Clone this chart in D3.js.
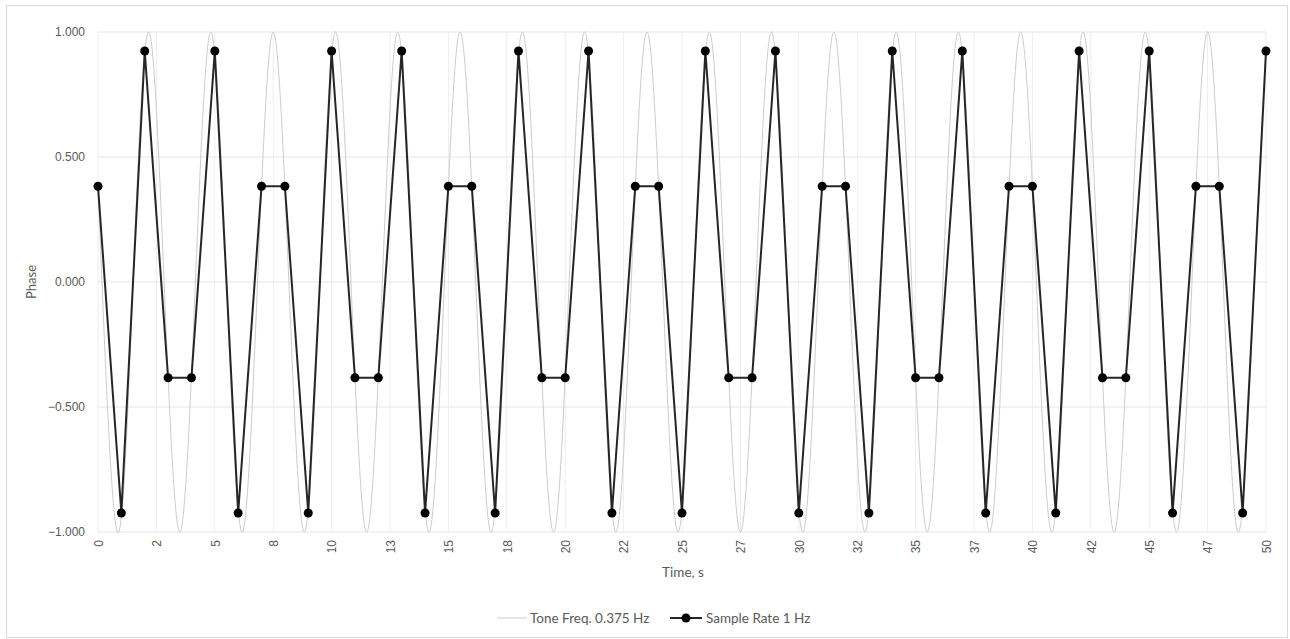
<!DOCTYPE html>
<html>
<head>
<meta charset="utf-8">
<script src="https://cdn.jsdelivr.net/npm/d3@7"></script>
<style>
  body { margin: 0; background: #fff; }
  svg { font-family: Lato, "Liberation Sans", sans-serif; }
  .tick text { fill: #595959; font-size: 12px; }
  .grid line { stroke: #e6e6e6; stroke-width: 1; }
</style>
</head>
<body>
<svg width="1290" height="639"></svg>
<script>
// sampled phase at 1 Hz, t = 0..50 s
var sampleValues = [
  0.383, -0.924, 0.924, -0.383, -0.383, 0.924, -0.924, 0.383,
  0.383, -0.924, 0.924, -0.383, -0.383, 0.924, -0.924, 0.383,
  0.383, -0.924, 0.924, -0.383, -0.383, 0.924, -0.924, 0.383,
  0.383, -0.924, 0.924, -0.383, -0.383, 0.924, -0.924, 0.383,
  0.383, -0.924, 0.924, -0.383, -0.383, 0.924, -0.924, 0.383,
  0.383, -0.924, 0.924, -0.383, -0.383, 0.924, -0.924, 0.383,
  0.383, -0.924, 0.924
];

// tone: start, zero crossings / peaks / troughs, end
var toneTime = [0, 0.17, 0.83, 1.5, 2.17, 2.83, 3.5, 4.17, 4.83, 5.5, 6.17, 6.83, 7.5,
  8.17, 8.83, 9.5, 10.17, 10.83, 11.5, 12.17, 12.83, 13.5, 14.17, 14.83, 15.5,
  16.17, 16.83, 17.5, 18.17, 18.83, 19.5, 20.17, 20.83, 21.5, 22.17, 22.83, 23.5,
  24.17, 24.83, 25.5, 26.17, 26.83, 27.5, 28.17, 28.83, 29.5, 30.17, 30.83, 31.5,
  32.17, 32.83, 33.5, 34.17, 34.83, 35.5, 36.17, 36.83, 37.5, 38.17, 38.83, 39.5,
  40.17, 40.83, 41.5, 42.17, 42.83, 43.5, 44.17, 44.83, 45.5, 46.17, 46.83, 47.5,
  48.17, 48.83, 49.5, 50];
var toneValue = [0.383, 0, -1, 0, 1, 0, -1, 0, 1, 0, -1, 0, 1,
  0, -1, 0, 1, 0, -1, 0, 1, 0, -1, 0, 1,
  0, -1, 0, 1, 0, -1, 0, 1, 0, -1, 0, 1,
  0, -1, 0, 1, 0, -1, 0, 1, 0, -1, 0, 1,
  0, -1, 0, 1, 0, -1, 0, 1, 0, -1, 0, 1,
  0, -1, 0, 1, 0, -1, 0, 1, 0, -1, 0, 1,
  0, -1, 0, 0.924];

var xTickValues = [0, 2.5, 5, 7.5, 10, 12.5, 15, 17.5, 20, 22.5, 25, 27.5, 30, 32.5, 35, 37.5, 40, 42.5, 45, 47.5, 50];
var xTickLabels = ["0", "2", "5", "8", "10", "13", "15", "18", "20", "22", "25", "27", "30", "32", "35", "37", "40", "42", "45", "47", "50"];
var yTickValues = [-1, -0.5, 0, 0.5, 1];
var seriesNames = ["Tone Freq. 0.375 Hz", "Sample Rate 1 Hz"];

var svg = d3.select("svg");
var margin = {top: 32, right: 24, bottom: 107, left: 98};
var width = 1290 - margin.left - margin.right;
var height = 639 - margin.top - margin.bottom;

// chart area border
svg.append("rect")
  .attr("x", 6.5).attr("y", 5.5)
  .attr("width", 1281).attr("height", 632)
  .attr("fill", "#fff").attr("stroke", "#d9d9d9");

var g = svg.append("g").attr("transform", "translate(" + margin.left + "," + margin.top + ")");

var x = d3.scaleLinear().domain([0, 50]).range([0, width]);
var y = d3.scaleLinear().domain([-1, 1]).range([height, 0]);

// gridlines
g.append("g").attr("class", "grid")
  .selectAll("line").data(yTickValues).enter().append("line")
    .attr("x1", 0).attr("x2", width)
    .attr("y1", function(d) { return y(d); }).attr("y2", function(d) { return y(d); });
g.append("g").attr("class", "grid")
  .selectAll("line").data(xTickValues).enter().append("line")
    .attr("y1", 0).attr("y2", height)
    .attr("x1", function(d) { return x(d); }).attr("x2", function(d) { return x(d); })
    .style("stroke", "#eeeeee");

// axes
var yAxis = g.append("g")
  .call(d3.axisLeft(y).tickValues(yTickValues).tickFormat(d3.format(".3f")).tickSize(0).tickPadding(13));
yAxis.select(".domain").remove();

var xAxis = g.append("g")
  .attr("transform", "translate(0," + height + ")")
  .call(d3.axisBottom(x).tickValues(xTickValues)
    .tickFormat(function(d, i) { return xTickLabels[i]; }).tickSize(0));
xAxis.select(".domain").remove();
xAxis.selectAll("text")
  .attr("transform", "rotate(-90)")
  .attr("x", -8).attr("y", 0)
  .attr("dy", "0.35em")
  .style("text-anchor", "end");

// axis titles
g.append("text")
  .attr("transform", "rotate(-90)")
  .attr("x", -height / 2).attr("y", -62)
  .attr("text-anchor", "middle")
  .attr("fill", "#595959").style("font-size", "13px")
  .text("Phase");
g.append("text")
  .attr("x", width / 2 + 1).attr("y", height + 45)
  .attr("text-anchor", "middle")
  .attr("fill", "#595959").style("font-size", "13.5px")
  .text("Time, s");

// tone
var toneData = toneTime.map(function(t, i) { return {t: t, v: toneValue[i]}; });
var toneLine = d3.line()
  .curve(d3.curveNatural)
  .x(function(d) { return x(d.t); })
  .y(function(d) { return y(d.v); });
g.append("path")
  .datum(toneData)
  .attr("d", toneLine)
  .attr("fill", "none")
  .attr("stroke", "#cccccc")
  .attr("stroke-width", 1);

// samples
var sampleData = sampleValues.map(function(v, i) { return {t: i, v: v}; });
var sampleLine = d3.line()
  .x(function(d) { return x(d.t); })
  .y(function(d) { return y(d.v); });
g.append("path")
  .datum(sampleData)
  .attr("d", sampleLine)
  .attr("fill", "none")
  .attr("stroke", "#262626")
  .attr("stroke-width", 2);
g.selectAll(".dot")
  .data(sampleData)
  .enter().append("circle")
    .attr("class", "dot")
    .attr("cx", function(d) { return x(d.t); })
    .attr("cy", function(d) { return y(d.v); })
    .attr("r", 4.5)
    .attr("fill", "#000");

// legend
var legend = svg.append("g").attr("transform", "translate(497,618)");
legend.append("line")
  .attr("x1", 0).attr("x2", 30).attr("y1", 0).attr("y2", 0)
  .attr("stroke", "#cccccc").attr("stroke-width", 1);
legend.append("text")
  .attr("x", 33).attr("dy", "0.35em")
  .attr("fill", "#595959").style("font-size", "13.5px")
  .text(seriesNames[0]);
var leg2 = legend.append("g").attr("transform", "translate(173,0)");
leg2.append("line")
  .attr("x1", 0).attr("x2", 32).attr("y1", 0).attr("y2", 0)
  .attr("stroke", "#262626").attr("stroke-width", 2);
leg2.append("circle").attr("cx", 16).attr("cy", 0).attr("r", 4.5).attr("fill", "#000");
leg2.append("text")
  .attr("x", 36).attr("dy", "0.35em")
  .attr("fill", "#595959").style("font-size", "13.5px")
  .text(seriesNames[1]);
</script>
</body>
</html>
